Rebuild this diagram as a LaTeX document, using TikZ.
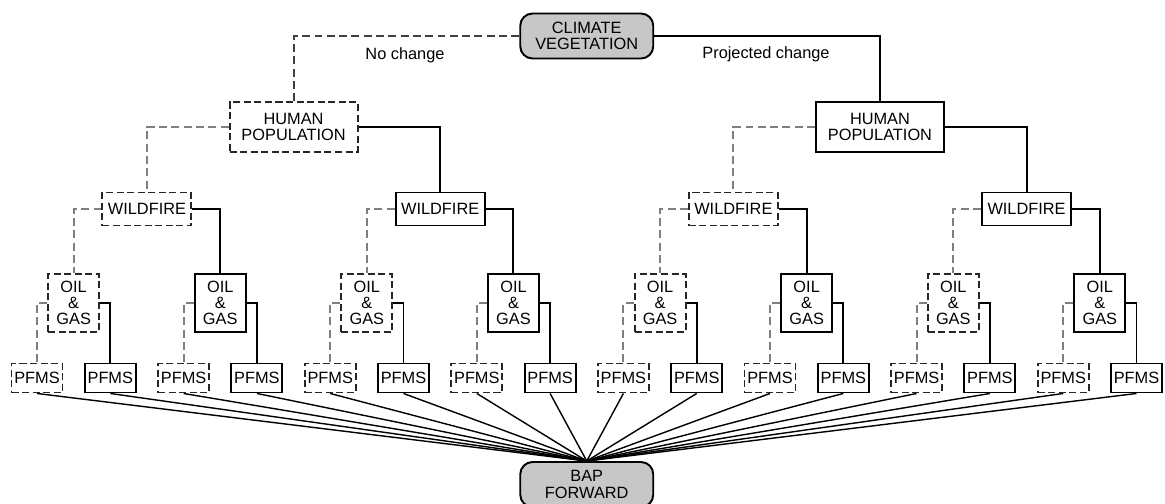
\documentclass[tikz,border=0pt]{standalone}
\usepackage{fontspec}
\setmainfont{Liberation Sans}
\begin{document}
\begin{tikzpicture}[every node/.style={font=\fontsize{9.3}{9.3}\selectfont, align=center, inner sep=0pt},
  solidbox/.style={draw, line width=1.1pt, fill=white},
  dashbox/.style={draw=black!85, line width=1.1pt, dash pattern=on 4pt off 2pt, fill=white},
  endbox/.style={draw, line width=1.1pt, rounded corners=7pt, fill=black!22, minimum width=2.66cm, minimum height=0.9cm},
  humanbox/.style={minimum width=2.56cm, minimum height=1.0cm},
  firebox/.style={minimum width=1.78cm, minimum height=0.66cm},
  oilbox/.style={minimum width=1.02cm, minimum height=1.16cm},
  pfmsbox/.style={minimum width=1.02cm, minimum height=0.58cm},
  projected/.style={line width=1.1pt},
  nochange/.style={draw=black!50, line width=1.1pt, dash pattern=on 4.5pt off 2.5pt},
  fan/.style={line width=0.8pt}]
\useasboundingbox (0,0) rectangle (23.3,10.06);
\node[endbox] (climate) at (11.735,9.34) {CLIMATE\\VEGETATION};
\node[endbox] (bap) at (11.735,0.37) {BAP\\FORWARD};
\node (nochg) at (8.1,8.96) {No change};
\node (projchg) at (15.32,8.98) {Projected change};
\node[dashbox, humanbox] (human0) at (5.871,7.52) {HUMAN\\POPULATION};
\node[solidbox, humanbox] (human1) at (17.599,7.52) {HUMAN\\POPULATION};
\foreach \k in {0,2} \node[dashbox, firebox] (fire\k) at ({2.939+5.864*\k},5.88) {WILDFIRE};
\foreach \k in {1,3} \node[solidbox, firebox] (fire\k) at ({2.939+5.864*\k},5.88) {WILDFIRE};
\foreach \j in {0,2,4,6} \node[dashbox, oilbox] (oil\j) at ({1.473+2.932*\j},4.0) {OIL\\\&\\GAS};
\foreach \j in {1,3,5,7} \node[solidbox, oilbox] (oil\j) at ({1.473+2.932*\j},4.0) {OIL\\\&\\GAS};
\foreach \i in {0,2,...,14} \node[dashbox, pfmsbox] (pfms\i) at ({0.74+1.466*\i},2.5) {PFMS};
\foreach \i in {1,3,...,15} \node[solidbox, pfmsbox] (pfms\i) at ({0.74+1.466*\i},2.5) {PFMS};
% branches
\draw[nochange, draw=black!75] (climate.west) -| (human0.north);
\draw[projected] (climate.east) -| (human1.north);
\foreach \m in {0,1} {
  \pgfmathtruncatemacro\a{2*\m}
  \pgfmathtruncatemacro\b{2*\m+1}
  \draw[nochange] (human\m.west) -| (fire\a.north);
  \draw[projected] (human\m.east) -| (fire\b.north);
}
\foreach \k in {0,...,3} {
  \pgfmathtruncatemacro\a{2*\k}
  \pgfmathtruncatemacro\b{2*\k+1}
  \draw[nochange] (fire\k.west) -| (oil\a.north);
  \draw[projected] (fire\k.east) -| (oil\b.north);
}
\foreach \j in {0,...,7} {
  \pgfmathtruncatemacro\a{2*\j}
  \pgfmathtruncatemacro\b{2*\j+1}
  \draw[nochange] (oil\j.west) -| (pfms\a.north);
  \draw[projected] (oil\j.east) -| (pfms\b.north);
}
% all runs into the forward
\foreach \i in {0,...,15} \draw[fan] (pfms\i.south) -- (bap.north);
\end{tikzpicture}
\end{document}
